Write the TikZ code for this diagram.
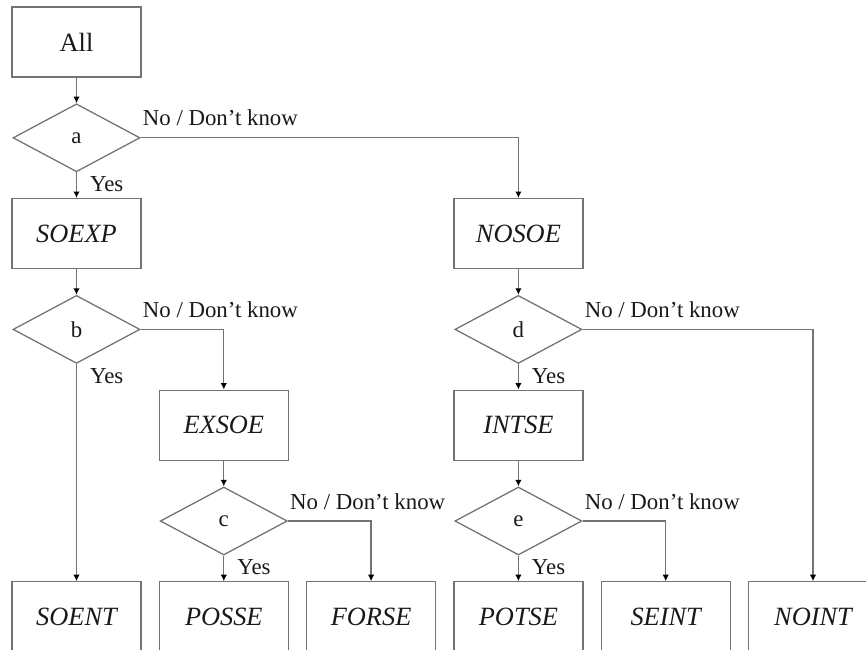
\documentclass[tikz,border=0pt]{standalone}
\usepackage{fontspec}
\setmainfont{Liberation Serif}
\usetikzlibrary{arrows.meta,shapes.geometric}
\tikzstyle{catbox}=[rectangle, draw=black!55, line width=1.1pt, minimum width=3.87cm, minimum height=2.1cm, inner sep=0pt, text=black!90, font=\fontsize{22.5}{27}\selectfont\itshape]
\tikzstyle{qbox}=[diamond, draw=black!55, line width=1.1pt, minimum width=3.81cm, minimum height=2.04cm, inner sep=0pt, text=black!90, font=\fontsize{19.5}{23}\selectfont]
\tikzstyle{answer}=[inner sep=0pt, text=black!90, font=\fontsize{19.5}{23}\selectfont]
\newcommand{\catbox}{\node[catbox]}
\newcommand{\qbox}{\node[qbox]}

\begin{document}
\begin{tikzpicture}[x=4.419cm, y=-2.874cm
    ,every edge/.style={draw, black!55, line width=1.1pt,
        -{Latex[black,length=5.5pt,width=5.5pt]}}
    ,elbow/.style={to path={-| (\tikztotarget)}}
]
\useasboundingbox (-2.295cm,1.26cm) rectangle (23.685cm,-18.21cm);
\clip (-2.295cm,1.26cm) rectangle (23.685cm,-18.21cm);
\catbox (all) at (0,0) {\upshape All};
\qbox (a) at (0,1) {a};
\catbox (soexp) at (0,2) {SOEXP};
\catbox (nosoe) at (3,2) {NOSOE};
\qbox (b) at (0,3) {b};
\qbox (d) at (3,3) {d};
\catbox (exsoe) at (1,4) {EXSOE};
\catbox (intse) at (3,4) {INTSE};
\qbox (c) at (1,5) {c};
\qbox (e) at (3,5) {e};
\catbox (soent) at (0,6) {SOENT};
\catbox (posse) at (1,6) {POSSE};
\catbox (forse) at (2,6) {FORSE};
\catbox (potse) at (3,6) {POTSE};
\catbox (seint) at (4,6) {SEINT};
\catbox (noint) at (5,6) {NOINT};
% answers next to the questions
\foreach \q in {a,b,c,d,e}{
    \node[answer, anchor=base west] (no\q) at ([xshift=0.06cm,yshift=0.36cm]\q.east) {No / Don’t know};
    \node[answer, anchor=base west] (yes\q) at ([xshift=0.4cm,yshift=-0.57cm]\q.south) {Yes};
}
\path
(all) edge (a)
(a) edge (soexp)
(a.east) edge[elbow] (nosoe)
(soexp) edge (b)
(b) edge (soent)
(b.east) edge[elbow] (exsoe)
(exsoe) edge (c)
(c) edge (posse)
(c.east) edge[elbow] (forse)
(nosoe) edge (d)
(d) edge (intse)
(d.east) edge[elbow] (noint)
(intse) edge (e)
(e) edge (potse)
(e.east) edge[elbow] (seint)
;
\end{tikzpicture}
\end{document}
